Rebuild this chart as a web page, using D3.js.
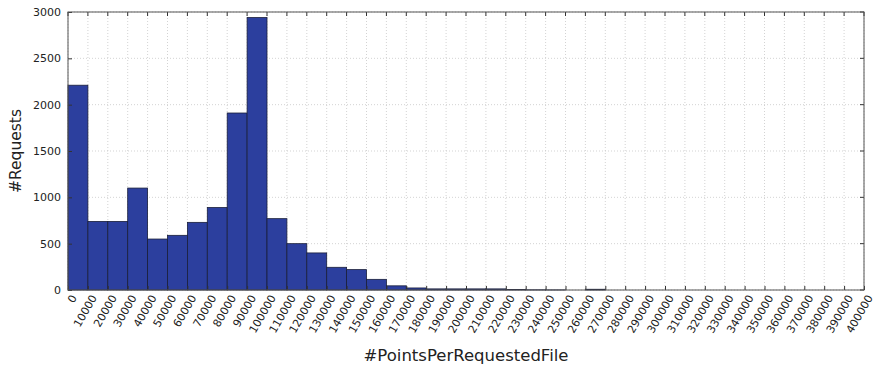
<!DOCTYPE html>
<html><head><meta charset="utf-8">
<script src="https://cdn.jsdelivr.net/npm/d3@7"></script>
<style>body{margin:0;background:#fff}svg{display:block}text{font-family:"DejaVu Sans",sans-serif;fill:#222}</style>
</head><body><svg id="c" width="876" height="368"></svg>
<script>
const binStart = d3.range(0, 400000, 10000);
const counts = [2210, 740, 740, 1100, 550, 590, 730, 890, 1910, 2940,
                770, 500, 400, 245, 220, 115, 45, 22, 12, 12,
                12, 12, 5, 2, 1, 0, 8, 0, 0, 0,
                0, 0, 0, 0, 0, 0, 0, 0, 0, 0];
const xTicks = d3.range(0, 400001, 10000);
const yTicks = [0, 500, 1000, 1500, 2000, 2500, 3000];
const xLabel = "#PointsPerRequestedFile";
const yLabel = "#Requests";

const svg = d3.select("#c");
const L = 68, R = 864, T = 12, B = 290;
const x = d3.scaleLinear().domain([0, 400000]).range([L, R]);
const y = d3.scaleLinear().domain([0, 3000]).range([B, T]);

// grid
svg.append("g").selectAll("line").data(xTicks).join("line")
  .attr("x1", d => x(d)).attr("x2", d => x(d)).attr("y1", T).attr("y2", B)
  .attr("stroke", "#c8c8c8").attr("stroke-width", 0.8).attr("stroke-dasharray", "1,2");
svg.append("g").selectAll("line").data(yTicks).join("line")
  .attr("y1", d => y(d)).attr("y2", d => y(d)).attr("x1", L).attr("x2", R)
  .attr("stroke", "#c8c8c8").attr("stroke-width", 0.8).attr("stroke-dasharray", "1,2");

// bars
svg.append("g").selectAll("rect").data(binStart.map((s, i) => ({s, v: counts[i]}))).join("rect")
  .filter(d => d.v > 0)
  .attr("x", d => x(d.s)).attr("width", d => x(d.s + 10000) - x(d.s))
  .attr("y", d => y(d.v)).attr("height", d => y(0) - y(d.v))
  .attr("fill", "#2c3f9e").attr("stroke", "#1a1f3a").attr("stroke-width", 0.8);

// axes
const xa = svg.append("g").attr("transform", `translate(0,${B})`)
  .call(d3.axisBottom(x).tickValues(xTicks).tickFormat(d3.format("d")).tickSizeInner(-4).tickSizeOuter(0).tickPadding(8));
xa.select(".domain").remove();
xa.selectAll("line").attr("stroke", "#333");
xa.selectAll("text").attr("font-size", 11).attr("text-anchor", "end")
  .attr("transform", "rotate(-60)").attr("dx", "-0.2em").attr("dy", "0.5em").attr("y", 6);

const ya = svg.append("g").attr("transform", `translate(${L},0)`)
  .call(d3.axisLeft(y).tickValues(yTicks).tickFormat(d3.format("d")).tickSizeInner(-4).tickSizeOuter(0).tickPadding(7));
ya.select(".domain").remove();
ya.selectAll("line").attr("stroke", "#333");
ya.selectAll("text").attr("font-size", 11);

// top/right ticks
svg.append("g").selectAll("line").data(xTicks).join("line")
  .attr("x1", d => x(d)).attr("x2", d => x(d)).attr("y1", T).attr("y2", T + 4).attr("stroke", "#333");
svg.append("g").selectAll("line").data(yTicks).join("line")
  .attr("y1", d => y(d)).attr("y2", d => y(d)).attr("x1", R).attr("x2", R - 4).attr("stroke", "#333");

svg.append("rect").attr("x", L).attr("y", T).attr("width", R - L).attr("height", B - T)
  .attr("fill", "none").attr("stroke", "#555").attr("stroke-width", 1);

svg.append("text").attr("x", (L + R) / 2).attr("y", 361).attr("text-anchor", "middle")
  .attr("font-size", 16.5).text(xLabel);
svg.append("text").attr("transform", `translate(21,${(T + B) / 2}) rotate(-90)`)
  .attr("text-anchor", "middle").attr("font-size", 15.5).text(yLabel);
</script></body></html>
